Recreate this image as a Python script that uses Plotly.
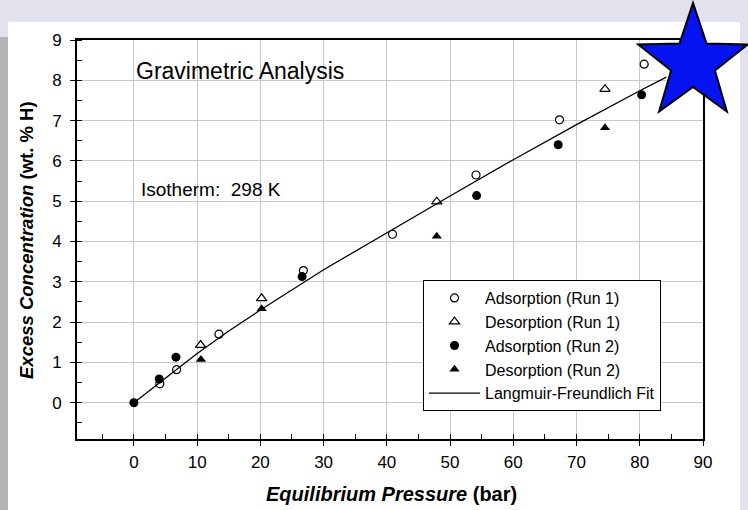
import math
import plotly.graph_objects as go

# ---- data: hydrogen uptake at 298 K (pressure in bar, excess conc. in wt. % H)
ads1_p = [4.1, 6.75, 13.45, 26.8, 40.9, 54.1, 67.3, 80.7]
ads1_q = [0.47, 0.82, 1.70, 3.28, 4.18, 5.65, 7.02, 8.40]

des1_p = [10.55, 20.2, 47.9, 74.5]
des1_q = [1.43, 2.59, 4.99, 7.78]

ads2_p = [0.0, 4.0, 6.65, 26.6, 54.2, 67.1, 80.3]
ads2_q = [0.0, 0.59, 1.13, 3.13, 5.14, 6.40, 7.64]

des2_p = [10.6, 20.2, 47.9, 74.5]
des2_q = [1.07, 2.33, 4.13, 6.82]

fit_p = [0, 5, 10, 15, 20, 30, 40, 50, 60, 70, 80, 84.2]
fit_q = [0, 0.62, 1.22, 1.78, 2.30, 3.30, 4.22, 5.13, 6.03, 6.90, 7.74, 8.08]

x_range = [-9, 90]
y_range = [-0.9, 9]

# ---- page geometry (pixels)
W, H = 748, 510
L, R, T, B = 77, 703, 40, 439

def px2x(px):
    return (px - L) / (R - L)

def py2y(py):
    return (B - py) / (B - T)

FONT = "Arial, 'Liberation Sans', Helvetica, sans-serif"

fig = go.Figure()

fig.add_trace(go.Scatter(
    x=ads1_p, y=ads1_q, mode="markers", name="Adsorption (Run 1)",
    marker=dict(symbol="circle", size=8, color="white",
                line=dict(color="black", width=1.2))))
fig.add_trace(go.Scatter(
    x=des1_p, y=des1_q, mode="markers", name="Desorption (Run 1)",
    marker=dict(symbol="triangle-up", size=9, color="white",
                line=dict(color="black", width=1.2))))
fig.add_trace(go.Scatter(
    x=ads2_p, y=ads2_q, mode="markers", name="Adsorption (Run 2)",
    marker=dict(symbol="circle", size=9, color="black",
                line=dict(color="black", width=0))))
fig.add_trace(go.Scatter(
    x=des2_p, y=des2_q, mode="markers", name="Desorption (Run 2)",
    marker=dict(symbol="triangle-up", size=9, color="black",
                line=dict(color="black", width=0))))
fig.add_trace(go.Scatter(
    x=fit_p, y=fit_q, mode="lines", name="Langmuir-Freundlich Fit",
    line=dict(color="black", width=1.3)))

axis_common = dict(
    showline=True, linecolor="black", linewidth=2, mirror=True,
    showgrid=True, gridcolor="#c8c8c8", gridwidth=1,
    zeroline=False,
    ticks="outside", ticklen=5, tickwidth=1, tickcolor="black",
    tickfont=dict(family=FONT, size=17, color="black"),
)

fig.update_layout(
    width=W, height=H,
    margin=dict(l=L, r=W - R, t=T, b=H - B),
    paper_bgcolor="#e2e2ee",
    plot_bgcolor="white",
    font=dict(family=FONT, color="black"),
    xaxis=dict(range=x_range, tick0=0, dtick=10, ticklabelstandoff=2,
               minor=dict(ticks="inside", dtick=5, tick0=0, ticklen=5,
                          tickcolor="black", tickwidth=1, showgrid=False),
               **axis_common),
    yaxis=dict(range=y_range, tick0=0, dtick=1, ticklabelstandoff=5,
               minor=dict(ticks="inside", dtick=0.5, tick0=0, ticklen=5,
                          tickcolor="black", tickwidth=1, showgrid=False),
               **axis_common),
    xaxis2=dict(range=x_range, overlaying="x", side="top", anchor="y",
                showticklabels=False, ticks="", showgrid=False, zeroline=False,
                minor=dict(ticks="inside", dtick=5, tick0=0, ticklen=5,
                           tickcolor="black", tickwidth=1)),
    yaxis2=dict(range=y_range, overlaying="y", side="right", anchor="x",
                showticklabels=False, ticks="", showgrid=False, zeroline=False,
                minor=dict(ticks="inside", dtick=0.5, tick0=0, ticklen=5,
                           tickcolor="black", tickwidth=1)),
    legend=dict(
        x=px2x(423), y=py2y(280), xanchor="left", yanchor="top",
        bgcolor="white", bordercolor="black", borderwidth=1,
        font=dict(family=FONT, size=16, color="black"),
        itemwidth=51, tracegroupgap=0,
    ),
    showlegend=True,
)

# background panels
shapes = [
    dict(type="rect", xref="paper", yref="paper", layer="below",
         x0=px2x(8), x1=px2x(740), y0=py2y(510), y1=py2y(22),
         fillcolor="white", line=dict(width=0)),
    dict(type="rect", xref="paper", yref="paper", layer="below",
         x0=px2x(0), x1=px2x(8), y0=py2y(510), y1=py2y(37),
         fillcolor="#b4b4b4", line=dict(width=0)),
]

# five-pointed star badge in the upper-right corner
cx, cy, r_out, r_in, sx = 693, 63, 60, 24, 0.96
pts = []
for k in range(10):
    ang = math.radians(90 + 36 * k)
    rr = r_out if k % 2 == 0 else r_in
    px = cx + rr * math.cos(ang) * sx
    py = cy - rr * math.sin(ang)
    pts.append((px2x(px), py2y(py)))
path = "M " + " L ".join(f"{x:.5f},{y:.5f}" for x, y in pts) + " Z"
shapes.append(dict(type="path", xref="paper", yref="paper", layer="above",
                   path=path, fillcolor="#0514f0",
                   line=dict(color="black", width=2)))
fig.update_layout(shapes=shapes)

annotations = [
    dict(text="Gravimetric Analysis", xref="paper", yref="paper",
         x=px2x(134), y=py2y(71), xanchor="left", yanchor="middle",
         showarrow=False, font=dict(family=FONT, size=23, color="black")),
    dict(text="Isotherm:&nbsp; 298 K", xref="paper", yref="paper",
         x=px2x(139), y=py2y(189), xanchor="left", yanchor="middle",
         showarrow=False, font=dict(family=FONT, size=19, color="black")),
    dict(text="<b><i>Equilibrium Pressure</i> (bar)</b>", xref="paper", yref="paper",
         x=px2x(391), y=py2y(494), xanchor="center", yanchor="middle",
         showarrow=False, font=dict(family=FONT, size=20, color="black")),
    dict(text="<b><i>Excess Concentration</i> (wt. % H)</b>", xref="paper", yref="paper",
         x=px2x(26), y=py2y(240), xanchor="center", yanchor="middle",
         textangle=-90, showarrow=False,
         font=dict(family=FONT, size=18.5, color="black")),
]
fig.update_layout(annotations=annotations)

fig.write_html("out.html")
